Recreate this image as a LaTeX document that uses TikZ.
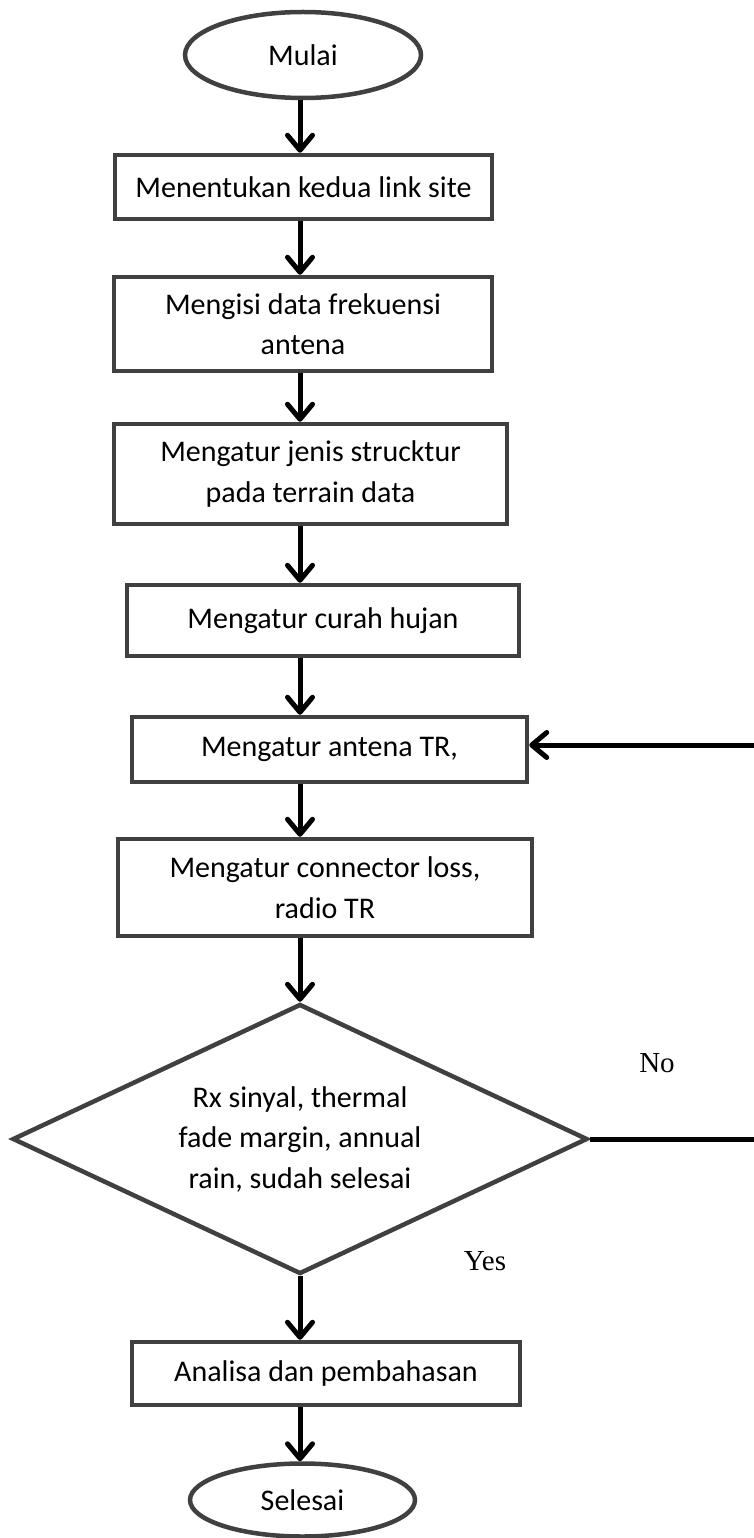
\documentclass[tikz,border=0pt]{standalone}
\usepackage{fontspec}
\setmainfont{Carlito}
\newfontfamily\timesfont{Liberation Serif}
\usepackage{xcolor}
\usepackage{tikz}
\usetikzlibrary{calc}
\usetikzlibrary{arrows.meta}
\usetikzlibrary{shapes.geometric}
\definecolor{garisabu}{HTML}{404040}
\newcommand{\teks}{\fontsize{30pt}{40.5pt}\selectfont}
\newcommand{\teksya}{\timesfont\fontsize{29pt}{34pt}\selectfont}
\begin{document}
\begin{tikzpicture}[x=1pt,y=-1pt,
	proses/.style={draw=garisabu,line width=4.5pt,rectangle,inner sep=0pt,align=center,font=\teks},
	ujung/.style={draw=garisabu,line width=4.5pt,ellipse,inner sep=0pt,font=\teks},
	pilihan/.style={draw=garisabu,line width=4.5pt,diamond,aspect=2.13,inner sep=0pt,align=center,font=\teks},
	panah/.style={-{Straight Barb[length=15pt,width=25pt,round]},line width=5pt,black},
	garis/.style={line width=5pt,black}]
		\useasboundingbox (0,0) rectangle (754,1538);
		\coordinate (poros) at (300,0);
		\node[ujung,minimum width=236pt,minimum height=86pt] (mulai) at (303,55) {Mulai};
		\node[proses,minimum width=377pt,minimum height=64pt] (link) at (303.5,187) {Menentukan kedua link site};
		\node[proses,minimum width=378pt,minimum height=94pt] (frek) at (303,324) {Mengisi data frekuensi\\antena};
		\node[proses,minimum width=393pt,minimum height=100pt] (terrain) at (310.5,474) {Mengatur jenis strucktur\\pada terrain data};
		\node[proses,minimum width=392pt,minimum height=71pt] (hujan) at (323,620.5) {Mengatur curah hujan};
		\node[proses,minimum width=395pt,minimum height=65pt] (antena) at (329.5,749.5) {Mengatur antena TR,};
		\node[proses,minimum width=414pt,minimum height=97pt] (radio) at (325,887.5) {Mengatur connector loss,\\radio TR};
		\node[pilihan,minimum width=575pt,minimum height=270pt] (cek) at (300,1139) {Rx sinyal, thermal\\fade margin, annual\\rain, sudah selesai};
		\node[proses,minimum width=388pt,minimum height=63pt] (analisa) at (326,1373.5) {Analisa dan pembahasan};
		\node[ujung,minimum width=225pt,minimum height=73pt] (selesai) at (302.5,1500) {Selesai};
		\node[font=\teksya] (tidak) at (657,1063) {No};
		\node[font=\teksya] (ya) at (485,1261) {Yes};
		\coordinate (tepi1) at (760,1139);
		\coordinate (tepi2) at (760,745);
			\draw[panah] (mulai.south -| poros) -- (link.north -| poros);
			\draw[panah] (link.south -| poros) -- (frek.north -| poros);
			\draw[panah] (frek.south -| poros) -- (terrain.north -| poros);
			\draw[panah] (terrain.south -| poros) -- (hujan.north -| poros);
			\draw[panah] (hujan.south -| poros) -- (antena.north -| poros);
			\draw[panah] (antena.south -| poros) -- (radio.north -| poros);
			\draw[panah] (radio.south -| poros) -- (cek.north);
			\draw[panah] (cek.south) -- (analisa.north -| cek.south);
			\draw[panah] (analisa.south -| poros) -- (selesai.north -| poros);
			\draw[garis] (cek.east) -- (cek.east -| tepi1);
			\draw[panah] (tepi2) -- (tepi2 -| antena.east);
\end{tikzpicture}
\end{document}
